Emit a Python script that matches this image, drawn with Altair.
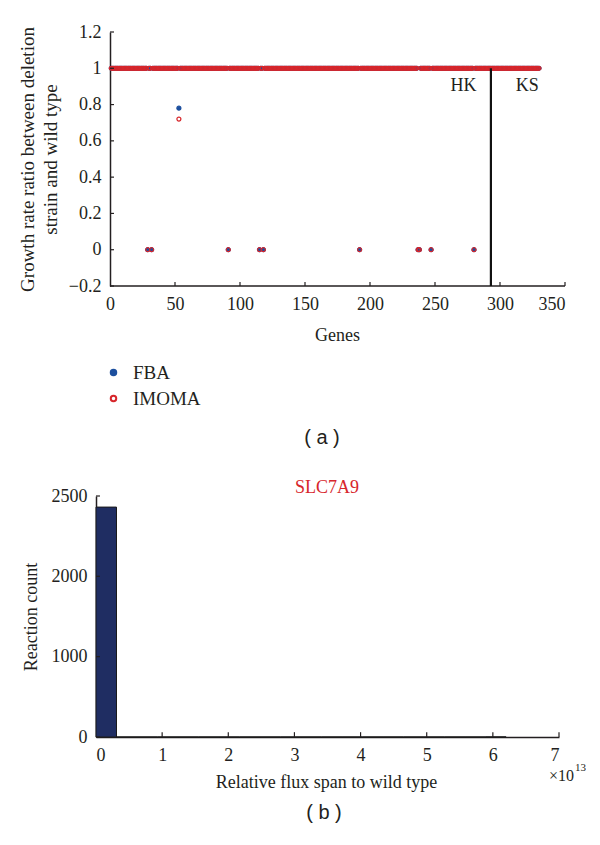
import altair as alt
import pandas as pd

# ---------------- panel (a) data ----------------
n_genes = 330
zero_genes = [29, 32, 91, 115, 118, 192, 237, 238, 247, 280]
partial_genes = [53]
partial_fba = [0.78]
partial_imoma = [0.72]
boundary_gene = [293]
region_labels = ["HK", "KS"]
region_label_x = [272, 321]
region_label_y = [0.90, 0.90]
xticks_a = [0, 50, 100, 150, 200, 250, 300, 350]
yticks_a = [-0.2, 0, 0.2, 0.4, 0.6, 0.8, 1, 1.2]
methods = ["FBA", "IMOMA"]
method_colors = ["#1c4f9e", "#d7262b"]
method_fills = ["#1c4f9e", "transparent"]

# ---------------- panel (b) data ----------------
bin_start = [0.00, 0.31, 0.62, 0.93, 1.24, 1.55, 1.86, 2.17, 2.48, 2.79,
             3.10, 3.41, 3.72, 4.03, 4.34, 4.65, 4.96, 5.27, 5.58, 5.89]
bin_end = [0.31, 0.62, 0.93, 1.24, 1.55, 1.86, 2.17, 2.48, 2.79, 3.10,
           3.41, 3.72, 4.03, 4.34, 4.65, 4.96, 5.27, 5.58, 5.89, 6.20]
counts = [2431, 0, 0, 0, 0, 0, 0, 0, 0, 0,
          0, 0, 0, 0, 0, 0, 0, 0, 0, 1]
xticks_b = [0, 1, 2, 3, 4, 5, 6, 7]
yticks_b = [0, 1000, 2000, 2500]

SERIF = "Liberation Serif"
SANS = "Liberation Sans"
INK = "#231f20"

# ---------- build tables ----------
rows = []
for m in methods:
    for g in range(1, n_genes + 1):
        if g in zero_genes:
            v = 0.0
        elif g in partial_genes:
            i = partial_genes.index(g)
            v = partial_fba[i] if m == "FBA" else partial_imoma[i]
        else:
            v = 1.0
        rows.append({"gene": g, "ratio": v, "method": m})
df_a = pd.DataFrame(rows)

W_A, H_A = 469, 254
x_a = alt.Scale(domain=[-10.77, 350], nice=False, zero=False)
y_a = alt.Scale(domain=[-0.2, 1.2], nice=False, zero=False)

leg = alt.Legend(orient="none", legendX=8, legendY=331, title=None,
                 labelFont=SERIF, labelFontSize=19, labelColor=INK,
                 symbolSize=30, symbolStrokeWidth=2, rowPadding=6,
                 labelOffset=10, padding=0)

base_a = alt.Chart(df_a)

points = base_a.mark_point(filled=False, size=16, strokeWidth=1.2, opacity=1).encode(
    x=alt.X("gene:Q", scale=x_a,
            axis=alt.Axis(values=xticks_a, tickCount=20, domain=False, title="Genes", format="d",
                          labelFont=SERIF, titleFont=SERIF,
                          labelOverlap=False, labelPadding=9, titleX=241, titleY=49,
                          titleBaseline="middle")),
    y=alt.Y("ratio:Q", scale=y_a,
            axis=alt.Axis(values=yticks_a, tickCount=20, offset=-14, labelOverlap=False, format="~g",
                          labelFont=SERIF, titleFont=SERIF,
                          title=["Growth rate ratio between deletion", "strain and wild type"],
                          titleLineHeight=23, titleX=-83, titleY=127, titleFontSize=19,
                          titleBaseline="middle", titleAngle=-90, labelPadding=9)),
    color=alt.Color("method:N", scale=alt.Scale(domain=methods, range=method_colors), legend=leg),
    fill=alt.Fill("method:N", scale=alt.Scale(domain=methods, range=method_fills), legend=leg),
)

xline_a = alt.Chart(pd.DataFrame({"x0": [0], "x1": [350], "y0": [-0.2]})).mark_rule(
    color=INK, strokeWidth=1.5).encode(
    x=alt.X("x0:Q", scale=x_a), x2="x1:Q", y=alt.Y("y0:Q", scale=y_a))

yt_df = pd.DataFrame({"v": yticks_a, "x0": [0] * len(yticks_a), "x1": [3.1] * len(yticks_a)})
yticks_rule_a = alt.Chart(yt_df).mark_rule(color=INK, strokeWidth=1.2).encode(
    x=alt.X("x0:Q", scale=x_a), x2="x1:Q", y=alt.Y("v:Q", scale=y_a))

xt_df = pd.DataFrame({"v": xticks_a[1:], "y0": [-0.2] * 7, "y1": [-0.178] * 7})
xticks_rule_a = alt.Chart(xt_df).mark_rule(color=INK, strokeWidth=1.2).encode(
    x=alt.X("v:Q", scale=x_a), y=alt.Y("y0:Q", scale=y_a), y2="y1:Q")

vline = alt.Chart(pd.DataFrame({"g": boundary_gene, "y0": [-0.2], "y1": [1.0]})).mark_rule(
    color="#111111", strokeWidth=2.2).encode(
    x=alt.X("g:Q", scale=x_a), y=alt.Y("y0:Q", scale=y_a), y2="y1:Q")

reg_text = alt.Chart(pd.DataFrame({"t": region_labels, "x": region_label_x, "y": region_label_y})).mark_text(
    font=SERIF, fontSize=18, color=INK, align="center", baseline="middle").encode(
    x=alt.X("x:Q", scale=x_a), y=alt.Y("y:Q", scale=y_a), text="t:N")

label_a = alt.Chart(pd.DataFrame({"t": ["( a )"]})).mark_text(
    font=SANS, fontSize=20, color=INK, align="center", baseline="middle").encode(
    x=alt.value(226), y=alt.value(406), text="t:N")

top = alt.layer(points, xline_a, yticks_rule_a, xticks_rule_a, vline, reg_text, label_a).properties(
    width=W_A, height=H_A)

# ---------- panel (b) ----------
W_B, H_B = 463, 241
df_b = pd.DataFrame({"b0": bin_start, "b1": bin_end, "count": counts, "zero": [0] * len(counts)})
x_b = alt.Scale(domain=[0, 7], nice=False, zero=False)
y_b = alt.Scale(domain=[0, 2000, 2500], range=[H_B, H_B - 160.7, 0], nice=False, zero=False)

yt_b = pd.DataFrame({"v": yticks_b, "x0": [0] * 4, "x1": [0.06] * 4})
yticks_rule_b = alt.Chart(yt_b).mark_rule(color=INK, strokeWidth=1.2).encode(
    x=alt.X("x0:Q", scale=x_b), x2="x1:Q", y=alt.Y("v:Q", scale=y_b))
xt_b = pd.DataFrame({"v": xticks_b[1:], "y0": [0] * 7, "y1": [60] * 7})
xticks_rule_b = alt.Chart(xt_b).mark_rule(color=INK, strokeWidth=1.2).encode(
    x=alt.X("v:Q", scale=x_b), y=alt.Y("y0:Q", scale=y_b), y2="y1:Q")

bars = alt.Chart(df_b).mark_rect(fill="#1f2d62", stroke="#1a1a1a", strokeWidth=1).encode(
    x=alt.X("b0:Q", scale=x_b,
            axis=alt.Axis(values=xticks_b, tickCount=20, title="Relative flux span to wild type", format="d",
                          labelFont=SERIF, titleFont=SERIF,
                          labelOverlap=False, labelPadding=9, titleX=230, titleY=45,
                          titleBaseline="middle")),
    x2="b1:Q",
    y=alt.Y("count:Q", scale=y_b,
            axis=alt.Axis(values=yticks_b, tickCount=20, title="Reaction count", titleX=-65, titleY=120.5,
                          labelFont=SERIF, titleFont=SERIF,
                          format="d", labelOverlap=False,
                          titleBaseline="middle", titleAngle=-90, labelPadding=9)),
    y2="zero:Q",
)

texts_b = pd.DataFrame({
    "t": ["SLC7A9", "( b )", "×10", "13"],
    "px": [231, 228, 453, 479],
    "py": [-8, 317, 285, 275],
    "font": [SERIF, SANS, SERIF, SERIF],
    "size": [18, 20, 16, 11],
    "col": ["#d7262b", INK, INK, INK],
    "al": ["center", "center", "left", "left"],
})
ann_b = []
for _, r in texts_b.iterrows():
    ann_b.append(alt.Chart(pd.DataFrame({"t": [r["t"]]})).mark_text(
        font=r["font"], fontSize=int(r["size"]), color=r["col"], align=r["al"],
        baseline="alphabetic" if r["al"] == "left" else "middle").encode(
        x=alt.value(float(r["px"])), y=alt.value(float(r["py"])), text="t:N"))

bottom = alt.layer(bars, yticks_rule_b, xticks_rule_b, *ann_b).properties(width=W_B, height=H_B)

chart = alt.vconcat(top, bottom, spacing=31).properties(
    padding={"left": 9, "top": 15, "right": 0, "bottom": 0}
).configure_view(strokeWidth=0).configure_axis(
    labelFont=SERIF, titleFont=SERIF, labelFontSize=18, titleFontSize=18,
    titleFontWeight="normal", labelColor=INK, titleColor=INK,
    domainColor=INK, domainWidth=1.5, grid=False, ticks=False
).configure_legend(symbolType="circle")

chart.save("out.html", embed_options={"renderer": "svg", "actions": False})
